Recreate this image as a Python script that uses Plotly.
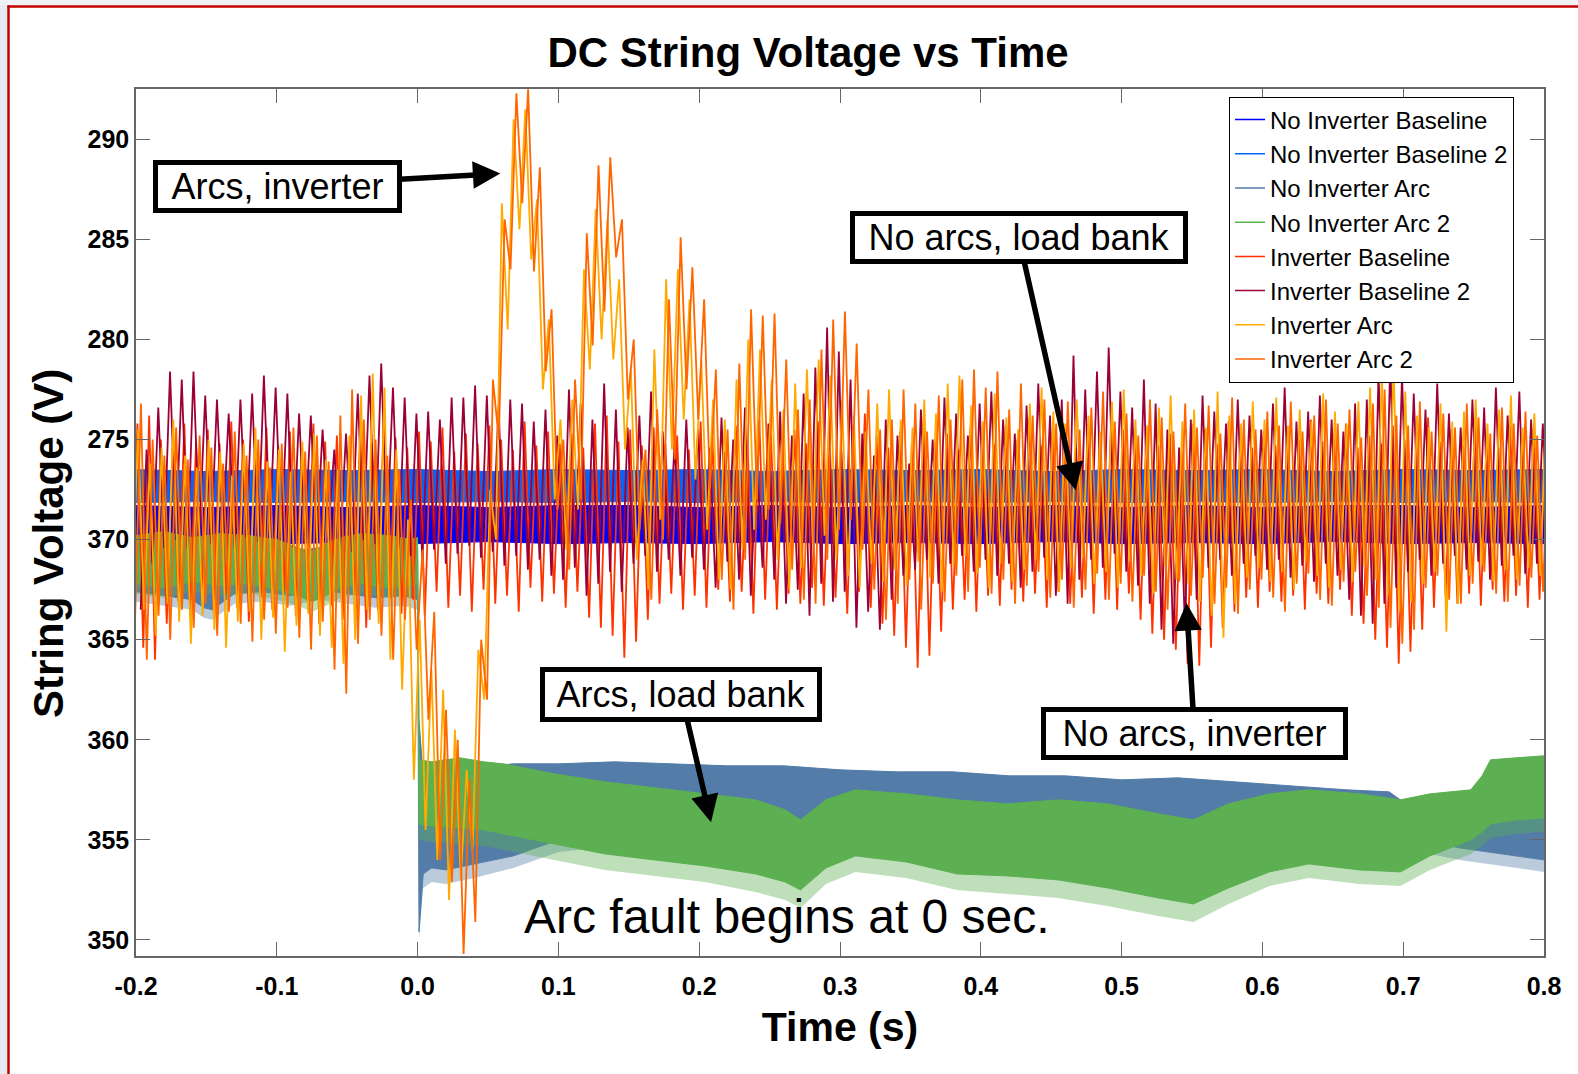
import plotly.graph_objects as go

# ---------------- axis / tick data ----------------
x_ticks = [-0.2, -0.1, 0.0, 0.1, 0.2, 0.3, 0.4, 0.5, 0.6, 0.7, 0.8]
x_tick_labels = ["-0.2", "-0.1", "0.0", "0.1", "0.2", "0.3", "0.4", "0.5", "0.6", "0.7", "0.8"]
y_ticks = [350, 355, 360, 365, 370, 375, 380, 385, 390]
y_tick_labels = ["350", "355", "360", "365", "370", "275", "280", "285", "290"]

series_names = ["No Inverter Baseline", "No Inverter Baseline 2", "No Inverter Arc",
                "No Inverter Arc 2", "Inverter Baseline", "Inverter Baseline 2",
                "Inverter Arc", "Inverter Arc 2"]
series_colors = ["#0000FF", "#0066FF", "#537DA8", "#5CB052",
                 "#FF3300", "#9B0037", "#FFAA00", "#FF6600"]
fringe_colors = ["rgba(0,0,255,0.4)", "rgba(0,102,255,0.4)",
                 "rgba(83,125,168,0.4)", "rgba(92,176,82,0.4)"]

# ---------------- no-inverter runs: noise-band envelopes (V) ----------------
nib_t = [-0.2, -0.15, -0.1, -0.05, 0.0, 0.05, 0.1, 0.15, 0.2, 0.25, 0.3, 0.35, 0.4,
         0.45, 0.5, 0.55, 0.6, 0.65, 0.7, 0.75, 0.8]
nib_upper = [371.7, 371.6, 371.7, 371.6, 371.7, 371.6, 371.7, 371.7, 371.6, 371.7, 371.6,
             371.7, 371.6, 371.7, 371.6, 371.7, 371.6, 371.7, 371.7, 371.6, 371.7]
nib_lower = [369.8, 369.9, 369.8, 369.85, 369.8, 369.9, 369.8, 369.85, 369.8, 369.9, 369.8,
             369.85, 369.8, 369.9, 369.8, 369.85, 369.8, 369.9, 369.8, 369.85, 369.8]
nib2_upper = [373.5, 373.4, 373.5, 373.45, 373.5, 373.4, 373.5, 373.45, 373.5, 373.4, 373.5,
              373.45, 373.5, 373.4, 373.5, 373.45, 373.5, 373.4, 373.5, 373.45, 373.5]
nib2_lower = [371.85, 371.9, 371.85, 371.9, 371.85, 371.9, 371.85, 371.9, 371.85, 371.9,
              371.85, 371.9, 371.85, 371.9, 371.85, 371.9, 371.85, 371.9, 371.85, 371.9, 371.85]

arc_t = [-0.200, -0.180, -0.160, -0.152, -0.146, -0.140, -0.130, -0.110, -0.090, -0.070,
         -0.050, -0.030, -0.010, 0.000,
         0.001, 0.004, 0.010, 0.020, 0.040, 0.068, 0.100, 0.140, 0.180, 0.220,
         0.260, 0.300, 0.340, 0.380, 0.420, 0.460, 0.500, 0.540, 0.580, 0.620,
         0.660, 0.690, 0.700, 0.705, 0.712, 0.740, 0.770, 0.800]
arc_upper = [369.6, 369.4, 369.5, 368.6, 368.0, 368.5, 369.3, 369.5, 369.4, 369.6,
             369.3, 369.5, 369.4, 369.5,
             361.0, 358.2, 358.3, 358.5, 358.6, 358.8, 358.8, 358.9, 358.8, 358.7,
             358.7, 358.5, 358.4, 358.4, 358.2, 358.2, 358.0, 358.1, 357.9, 357.7,
             357.5, 357.4, 356.9, 356.6, 357.1, 357.4, 357.3, 357.2]
arc_lower = [367.4, 367.2, 367.0, 366.6, 366.5, 366.8, 367.3, 367.4, 367.2, 367.5,
             367.3, 367.1, 367.2, 367.0,
             350.4, 353.3, 353.6, 353.5, 353.8, 354.2, 355.0, 355.3, 355.4, 355.2,
             355.0, 355.1, 355.0, 354.9, 354.8, 354.7, 354.6, 354.7, 354.9, 355.0,
             355.2, 355.3, 355.2, 355.1, 355.0, 354.6, 354.3, 354.0]
arc_spike_lower = [366.9, 366.7, 366.5, 366.1, 366.0, 366.3, 366.8, 366.9, 366.7, 367.0,
                   366.8, 366.6, 366.7, 366.5,
                   350.1, 352.6, 352.9, 352.8, 353.1, 353.6, 354.4, 354.7, 354.8, 354.6,
                   354.4, 354.5, 354.4, 354.3, 354.2, 354.1, 354.0, 354.1, 354.3, 354.4,
                   354.6, 354.7, 354.6, 354.5, 354.4, 354.0, 353.7, 353.4]

arc2_t = [-0.200, -0.180, -0.160, -0.140, -0.120, -0.100, -0.085, -0.075, -0.065, -0.055,
          -0.040, -0.020, -0.005, 0.000,
          0.001, 0.010, 0.030, 0.047, 0.061, 0.097, 0.133, 0.168, 0.204, 0.240,
          0.261, 0.272, 0.290, 0.311, 0.347, 0.383, 0.419, 0.455, 0.490, 0.526,
          0.551, 0.576, 0.605, 0.633, 0.669, 0.698, 0.719, 0.748, 0.756, 0.762,
          0.780, 0.800]
arc2_upper = [370.2, 370.4, 370.1, 370.3, 370.2, 370.0, 369.6, 369.4, 369.8, 370.1,
              370.3, 370.2, 370.0, 370.1,
              359.0, 358.9, 359.1, 358.9, 358.8, 358.3, 357.9, 357.6, 357.3, 357.0,
              356.5, 356.0, 357.0, 357.5, 357.3, 357.0, 356.8, 357.0, 356.8, 356.3,
              356.0, 356.8, 357.3, 357.5, 357.3, 357.0, 357.3, 357.5, 358.2, 359.0,
              359.1, 359.2]
arc2_lower = [367.8, 367.6, 367.9, 367.7, 367.8, 367.5, 367.2, 366.9, 367.2, 367.6,
              367.8, 367.6, 367.7, 367.8,
              355.8, 355.7, 355.6, 355.5, 355.3, 354.8, 354.3, 354.0, 353.7, 353.3,
              352.9, 352.5, 353.6, 354.2, 353.9, 353.3, 353.2, 353.0, 352.6, 352.1,
              351.8, 352.6, 353.4, 353.8, 353.5, 353.4, 354.2, 355.0, 355.4, 355.8,
              356.0, 356.1]
arc2_spike_lower = [367.3, 367.1, 367.4, 367.2, 367.3, 367.0, 366.7, 366.4, 366.7, 367.1,
                    367.3, 367.1, 367.2, 367.3,
                    355.0, 354.9, 354.8, 354.7, 354.5, 354.0, 353.5, 353.2, 352.9, 352.4,
                    352.0, 351.6, 352.8, 353.4, 353.1, 352.5, 352.3, 352.1, 351.7, 351.2,
                    350.9, 351.8, 352.7, 353.1, 352.8, 352.7, 353.5, 354.3, 354.7, 355.1,
                    355.3, 355.4]

# ---------------- inverter runs: 120 Hz ripple, peak / trough of each cycle (V) ----------------
ripple_period = 1.0 / 120.0

inv_base_start = -0.1990
inv_base_hi = [375.8, 376.2, 375.0, 374.6, 375.8, 374.9, 375.5, 374.8, 375.9, 375.0, 374.4, 375.6,
               374.7, 375.4, 374.6, 375.8, 374.9, 375.2, 374.3, 375.6, 374.8, 376.2, 375.1, 374.6,
               375.4, 374.9, 375.6, 374.4, 375.3, 374.8, 375.7, 375.0, 374.5, 375.9, 374.7, 375.4,
               374.8, 375.3, 374.6, 375.8, 376.2, 374.9, 375.5, 374.7, 375.6, 374.8, 375.2, 374.5,
               375.9, 375.1, 374.4, 375.7, 374.9, 376.0, 375.2, 374.6, 375.5, 374.8, 375.9, 375.0,
               374.4, 375.7, 376.3, 375.2, 374.6, 375.4, 374.8, 375.9, 374.9, 375.3, 374.5, 375.6,
               375.1, 374.8, 375.7, 375.0, 376.1, 374.7, 375.4, 375.2, 374.6, 375.8, 375.0, 376.2,
               375.5, 374.9, 375.6, 374.7, 375.3, 374.4, 375.8, 375.5, 374.8, 375.9, 375.1, 374.6,
               375.4, 374.7, 375.6, 375.0, 376.0, 374.9, 375.3, 375.8, 374.6, 375.2, 374.8, 375.7,
               375.0, 375.4, 376.1, 374.9, 375.5, 374.7, 375.9, 375.1, 374.6, 375.7, 375.0, 375.6,
               374.8]
inv_base_lo = [366.4, 364.6, 364.0, 365.8, 366.9, 366.2, 367.0, 366.4, 367.3, 366.6, 365.9, 367.1,
               366.5, 367.4, 366.2, 366.9, 365.8, 366.7, 366.0, 367.2, 365.6, 366.5, 367.1, 366.3,
               367.0, 366.2, 367.4, 366.6, 367.2, 366.4, 367.5, 366.8, 367.2, 366.4, 367.6, 366.9,
               367.3, 366.6, 367.4, 366.1, 365.6, 365.2, 364.1, 364.9, 366.0, 366.8, 367.3, 366.5,
               367.2, 366.6, 367.5, 366.9, 367.4, 366.3, 367.0, 366.5, 367.3, 366.8, 367.6, 366.7,
               367.1, 366.3, 367.4, 366.6, 365.8, 365.2, 364.6, 363.6, 364.2, 365.4, 366.5, 367.0,
               366.4, 367.2, 366.7, 367.5, 366.9, 367.3, 366.6, 367.4, 366.8, 367.1, 366.3, 367.0,
               366.5, 367.3, 366.0, 365.3, 365.0, 364.5, 363.8, 363.7, 364.6, 365.6, 366.4, 367.1,
               366.6, 367.4, 366.9, 367.2, 366.5, 367.3, 366.8, 367.5, 366.2, 365.8, 365.0, 364.6,
               363.8, 364.4, 365.5, 366.6, 367.2, 366.8, 367.3, 366.7, 367.5, 366.9, 367.2, 366.6,
               367.0]

inv_base2_start = -0.1925
inv_base2_hi = [374.5, 376.6, 378.4, 378.0, 378.4, 377.2, 377.0, 376.3, 377.0, 377.3, 378.2, 377.6,
                377.3, 376.3, 376.2, 375.5, 374.5, 375.3, 377.3, 378.2, 378.8, 377.6, 377.1, 376.3,
                376.4, 376.0, 377.1, 377.1, 377.7, 377.2, 376.7, 377.0, 376.8, 375.9, 376.5, 375.2,
                377.5, 376.8, 376.0, 377.8, 376.5, 375.6, 376.2, 377.4, 375.4, 374.8, 376.0, 375.5,
                374.6, 376.1, 375.0, 376.6, 374.2, 375.8, 376.4, 375.2, 377.3, 378.6, 380.6, 379.4,
                378.0, 375.3, 374.2, 376.0, 375.2, 373.8, 376.5, 375.0, 377.1, 376.3, 375.2, 376.8,
                377.4, 376.0, 375.3, 376.7, 377.8, 376.2, 377.0, 379.2, 377.5, 378.4, 379.6, 377.4,
                376.6, 378.0, 376.8, 375.5, 374.6, 376.0, 377.2, 376.4, 375.8, 377.0, 376.2, 375.5,
                376.8, 377.6, 375.9, 376.4, 377.2, 376.0, 375.4, 376.8, 377.0, 378.4, 379.0, 378.2,
                377.3, 376.5, 377.8, 376.3, 375.6, 377.0, 376.6, 377.6, 376.2, 377.4, 376.0, 375.8,
                376.5]
inv_base2_lo = [366.5, 368.8, 369.6, 370.0, 369.5, 370.2, 369.8, 370.4, 369.6, 370.1, 369.9, 370.3,
                370.0, 369.6, 370.2, 369.8, 370.4, 369.7, 369.4, 370.0, 369.8, 370.3, 369.6, 369.2,
                369.0, 369.5, 368.8, 369.3, 369.7, 369.1, 369.4, 368.7, 369.2, 368.5, 369.0, 368.2,
                368.0, 368.6, 367.2, 367.8, 368.4, 367.4, 368.8, 369.2, 368.4, 369.0, 368.2, 369.1,
                368.5, 367.6, 368.9, 368.0, 367.2, 368.6, 368.0, 366.8, 367.5, 366.2, 367.8, 366.9,
                367.4, 365.6, 366.4, 365.5, 367.0, 368.2, 368.5, 369.0, 367.8, 368.8, 369.2, 368.4,
                369.0, 368.2, 368.8, 367.6, 368.4, 369.1, 367.2, 366.8, 368.0, 369.0, 368.6, 369.3,
                368.4, 367.7, 366.8, 365.5, 364.8, 365.6, 367.0, 368.6, 369.0, 368.2, 368.8, 369.2,
                368.5, 369.0, 368.1, 368.7, 367.9, 368.8, 368.2, 367.0, 366.2, 365.8, 366.8, 367.6,
                368.4, 369.0, 368.2, 368.8, 369.2, 368.5, 368.9, 368.0, 368.7, 369.2, 368.3, 368.8,
                368.6]

inv_arc_start = -0.1985
inv_arc_hi = [375.5, 373.8, 374.6, 376.0, 374.2, 373.6, 375.0, 374.4, 373.2, 374.8, 375.6, 373.9,
              374.5, 373.4, 374.9, 375.3, 374.0, 373.5, 375.2, 377.2, 378.3, 377.6, 374.5, 371.0,
              366.0, 363.5, 362.5, 360.5, 358.5, 364.5, 372.5, 386.8, 391.0, 391.5, 387.0, 381.0,
              376.0, 377.0, 383.5, 386.5, 386.0, 383.0, 378.5, 374.0, 379.5, 383.0, 383.5, 382.0,
              379.0, 377.0, 376.0, 378.0, 380.0, 379.5, 378.0, 376.5, 377.8, 378.5, 379.0, 378.2,
              377.0, 376.2, 375.4, 376.8, 377.5, 376.0, 375.6, 377.0, 376.3, 377.8, 378.2, 376.7,
              375.9, 377.3, 376.1, 375.5, 376.8, 377.6, 376.4, 375.8, 377.0, 376.2, 375.4, 376.9,
              377.5, 376.0, 375.7, 376.6, 377.2, 375.9, 376.5, 375.6, 377.4, 376.2, 375.8, 376.9,
              376.0, 377.1, 375.7, 376.5, 375.9, 377.3, 376.4, 375.8, 376.9, 377.6, 378.3, 378.9,
              377.4, 376.2, 375.6, 376.8, 375.9, 376.4, 377.0, 375.8, 376.5, 377.2, 375.6, 376.3,
              376.7]
inv_arc_lo = [367.5, 366.5, 365.2, 366.8, 365.9, 364.8, 366.2, 365.5, 364.6, 365.9, 366.4, 365.0,
              366.1, 364.4, 365.7, 366.3, 365.2, 364.6, 363.8, 365.0, 366.5, 365.8, 364.0, 362.5,
              358.0, 355.5, 354.0, 352.0, 353.0, 354.5, 362.0, 370.0, 380.5, 385.5, 384.0, 377.5,
              372.0, 369.5, 371.5, 378.5, 380.0, 379.0, 374.5, 369.0, 367.5, 371.0, 374.5, 376.0,
              373.0, 370.5, 368.0, 367.5, 369.5, 370.5, 371.0, 369.0, 367.5, 368.6, 369.8, 370.2,
              369.0, 368.2, 367.6, 368.8, 367.9, 368.5, 367.7, 368.9, 368.1, 367.4, 368.7, 369.2,
              368.3, 367.6, 368.8, 367.9, 368.5, 369.0, 368.0, 367.4, 368.6, 369.1, 367.8, 368.4,
              367.6, 368.9, 368.2, 367.3, 368.7, 368.0, 367.8, 366.9, 366.2, 365.1, 366.8, 368.1,
              368.6, 367.9, 368.4, 367.5, 368.9, 368.2, 367.6, 368.5, 367.9, 368.7, 368.0, 367.2,
              366.4, 366.9, 367.8, 368.4, 365.4, 366.8, 368.2, 368.7, 367.9, 368.5, 368.0, 368.6,
              368.2]

inv_arc2_start = -0.1965
inv_arc2_hi = [376.8, 375.0, 374.2, 375.6, 374.0, 375.2, 374.6, 373.8, 375.4, 374.2, 375.0, 373.6,
               374.8, 375.6, 374.4, 375.2, 373.9, 376.2, 377.5, 376.0, 375.0, 374.2, 373.5, 372.0,
               369.5, 366.4, 361.5, 360.0, 358.0, 365.0, 378.0, 386.0, 392.3, 392.5, 388.6, 381.5,
               375.0, 378.0, 385.3, 388.7, 389.1, 386.0, 380.0, 374.5, 376.5, 382.0, 385.1, 383.6,
               382.0, 378.5, 375.5, 378.8, 381.5, 381.2, 381.3, 379.0, 376.5, 377.0, 379.5, 381.0,
               381.4, 379.8, 377.5, 375.5, 376.0, 377.5, 376.8, 375.4, 377.2, 376.0, 378.0, 378.5,
               377.6, 378.4, 376.5, 377.8, 376.2, 377.0, 375.8, 376.9, 375.5, 376.6, 377.4, 375.9,
               376.3, 375.2, 377.0, 376.1, 375.4, 376.8, 375.6, 376.7, 375.3, 377.1, 376.0, 375.5,
               376.4, 375.7, 376.9, 375.4, 376.2, 377.0, 375.8, 376.5, 375.1, 376.8, 377.5, 376.2,
               375.7, 376.9, 375.4, 376.3, 375.6, 376.8, 376.1, 375.3, 376.6, 375.8, 376.4, 375.2,
               376.0]
inv_arc2_lo = [366.0, 364.0, 366.2, 365.0, 366.5, 365.6, 366.8, 365.2, 366.4, 365.8, 364.9, 366.0,
               365.3, 366.6, 365.1, 364.5, 365.9, 363.5, 362.3, 364.8, 366.0, 365.2, 364.0, 366.0,
               364.5, 361.0, 354.0, 352.9, 349.3, 350.9, 362.0, 375.0, 383.5, 386.8, 383.4, 378.4,
               371.5, 368.5, 372.0, 379.7, 381.4, 384.1, 377.0, 370.5, 367.0, 370.0, 374.0, 377.5,
               376.0, 372.5, 368.0, 366.5, 369.0, 372.0, 371.5, 370.8, 368.5, 367.0, 366.8, 369.0,
               370.5, 371.0, 369.5, 367.5, 366.0, 366.8, 368.0, 366.5, 367.8, 366.9, 368.2, 367.4,
               368.6, 367.3, 368.0, 366.8, 367.7, 368.4, 367.1, 368.0, 366.6, 367.5, 368.3, 367.0,
               367.8, 366.9, 368.2, 367.4, 366.5, 367.9, 367.2, 368.1, 366.8, 367.6, 366.3, 367.5,
               368.0, 367.1, 366.4, 367.8, 368.3, 367.0, 366.7, 367.9, 368.4, 367.2, 366.6, 365.6,
               364.8, 365.5, 367.6, 368.2, 367.0, 366.8, 367.8, 368.4, 367.3, 366.9, 367.7, 368.1,
               367.4]


def ripple_xy(start, hi, lo):
    xs, ys = [], []
    for k in range(len(hi)):
        xs.append(start + (k - 0.5) * ripple_period)
        ys.append(lo[k])
        xs.append(start + k * ripple_period)
        ys.append(hi[k])
    return xs, ys


def band_xy(t, upper, lower):
    return list(t) + list(t)[::-1], list(upper) + list(lower)[::-1]


fig = go.Figure()


def add_band(t, up, lo, color, name, width=1):
    bx, by = band_xy(t, up, lo)
    fig.add_trace(go.Scatter(x=bx, y=by, mode="lines", fill="toself", fillcolor=color,
                             line=dict(color=color, width=width), name=name,
                             showlegend=False, hoverinfo="skip"))


# no-inverter baselines
add_band(nib_t, nib_upper, nib_lower, series_colors[0], series_names[0])
add_band(nib_t, nib2_upper, nib2_lower, series_colors[1], series_names[1])
# no-inverter arc: solid band plus light noise fringe on the low side
add_band(arc_t, arc_lower, arc_spike_lower, fringe_colors[2], series_names[2], width=0)
add_band(arc_t, arc_upper, arc_lower, series_colors[2], series_names[2])
# no-inverter arc 2
add_band(arc2_t, arc2_lower, arc2_spike_lower, fringe_colors[3], series_names[3], width=0)
add_band(arc2_t, arc2_upper, arc2_lower, series_colors[3], series_names[3])

ripples = [(inv_base_start, inv_base_hi, inv_base_lo, 4),
           (inv_base2_start, inv_base2_hi, inv_base2_lo, 5),
           (inv_arc_start, inv_arc_hi, inv_arc_lo, 6),
           (inv_arc2_start, inv_arc2_hi, inv_arc2_lo, 7)]
for st, hi, lo, idx in ripples:
    rx, ry = ripple_xy(st, hi, lo)
    fig.add_trace(go.Scatter(x=rx, y=ry, mode="lines",
                             line=dict(color=series_colors[idx], width=1.8),
                             name=series_names[idx], showlegend=False))

# legend entries (thin line samples, as in the original legend)
for i, nm in enumerate(series_names):
    fig.add_trace(go.Scatter(x=[None], y=[None], mode="lines", name=nm,
                             line=dict(color=series_colors[i], width=1.5), showlegend=True))

# ---------------- layout geometry ----------------
W, H = 1578, 1074
ML, MR, MT, MB = 136, 34, 89, 118
PW, PH = W - ML - MR, H - MT - MB


def px_x(p):
    return (p - ML) / PW


def px_y(p):
    return 1 - (p - MT) / PH


FONT = "Arial, Liberation Sans, Helvetica, sans-serif"

ann_common = dict(xref="x", yref="y", axref="x", ayref="y", showarrow=True,
                  arrowhead=2, arrowsize=1, arrowwidth=5.5, arrowcolor="black",
                  bordercolor="black", borderwidth=5, borderpad=2, bgcolor="white",
                  font=dict(family=FONT, size=36, color="black"))

annotations = [
    dict(text="Arcs, inverter", ax=-0.0992, ay=387.64, x=0.0588, y=388.29,
         width=235, height=39, **ann_common),
    dict(text="No arcs, load bank", ax=0.4270, ay=385.08, x=0.4674, y=372.46,
         width=324, height=39, **ann_common),
    dict(text="Arcs, load bank", ax=0.1873, ay=362.26, x=0.2084, y=355.88,
         width=268, height=41, **ann_common),
    dict(text="No arcs, inverter", ax=0.5518, ay=360.30, x=0.5461, y=366.83,
         width=293, height=39, **ann_common),
    dict(text="Arc fault begins at 0 sec.", x=0.2621, y=351.16, xref="x", yref="y",
         showarrow=False, font=dict(family=FONT, size=48, color="black")),
    # y-axis title, placed where the original has it
    dict(text="String Voltage (V)", x=px_x(48.5), y=px_y(543.5), xref="paper", yref="paper",
         xanchor="center", yanchor="middle", textangle=-90, showarrow=False,
         font=dict(family=FONT, size=42, color="black", weight="bold")),
]

shapes = [
    # slide background strips outside the red frame
    dict(type="rect", xref="paper", yref="paper", x0=px_x(0), x1=px_x(7),
         y0=px_y(H), y1=px_y(0), fillcolor="#E6EAF2", line=dict(width=0), layer="below"),
    dict(type="rect", xref="paper", yref="paper", x0=px_x(0), x1=px_x(W),
         y0=px_y(5), y1=px_y(0), fillcolor="#F1F2F5", line=dict(width=0), layer="below"),
    # red frame
    dict(type="line", xref="paper", yref="paper", x0=px_x(8.5), x1=px_x(8.5),
         y0=px_y(H), y1=px_y(5.5), line=dict(color="#C00000", width=2.5)),
    dict(type="line", xref="paper", yref="paper", x0=px_x(7.5), x1=px_x(W),
         y0=px_y(6.5), y1=px_y(6.5), line=dict(color="#C00000", width=2.5)),
]

fig.update_layout(
    width=W, height=H,
    margin=dict(l=ML, r=MR, t=MT, b=MB, pad=0),
    paper_bgcolor="white", plot_bgcolor="white",
    font=dict(family=FONT, color="black"),
    title=dict(text="DC String Voltage vs Time", x=px_x(808), xref="paper", xanchor="center",
               y=1 - 52.5 / H, yref="container", yanchor="middle",
               font=dict(family=FONT, size=42, color="black", weight="bold")),
    xaxis=dict(range=[-0.2, 0.8], tickmode="array", tickvals=x_ticks, ticktext=x_tick_labels,
               ticks="inside", ticklen=14, tickwidth=1, tickcolor="#666666",
               showline=True, linecolor="#666666", linewidth=1.5, mirror="allticks",
               showgrid=False, zeroline=False, ticklabelstandoff=7,
               tickfont=dict(family=FONT, size=25, color="black", weight="bold"),
               title=dict(text="Time (s)", standoff=14,
                          font=dict(family=FONT, size=41, color="black", weight="bold"))),
    yaxis=dict(range=[349.2, 392.51], tickmode="array", tickvals=y_ticks, ticktext=y_tick_labels,
               ticks="inside", ticklen=14, tickwidth=1, tickcolor="#666666",
               showline=True, linecolor="#666666", linewidth=1.5, mirror="allticks",
               showgrid=False, zeroline=False, ticklabelstandoff=0,
               tickfont=dict(family=FONT, size=25, color="black", weight="bold")),
    legend=dict(x=px_x(1229), y=px_y(96.5), xanchor="left", yanchor="top",
                bgcolor="white", bordercolor="black", borderwidth=1,
                font=dict(family=FONT, size=24, color="black"), tracegroupgap=0,
                traceorder="normal"),
    annotations=annotations,
    shapes=shapes,
    showlegend=True,
)

fig.write_html("out.html")
